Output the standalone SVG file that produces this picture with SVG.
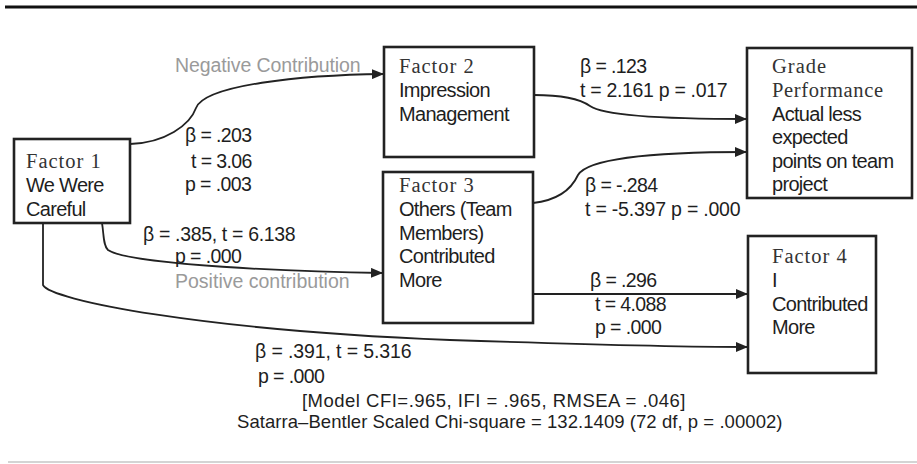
<svg xmlns="http://www.w3.org/2000/svg" width="917" height="464" viewBox="0 0 917 464">
  <style>
    .box { fill: #ffffff; stroke: #222222; stroke-width: 2.6; }
    .edge { fill: none; stroke: #222222; stroke-width: 1.8; marker-end: url(#arrow); }
    .ser { font-family: "Liberation Serif", "Times New Roman", serif; font-size: 20.5px; letter-spacing: 1px; fill: #333333; }
    .san { font-family: "Liberation Sans", Arial, sans-serif; font-size: 20px; letter-spacing: -0.7px; fill: #1e1e1e; }
    .lbl { font-family: "Liberation Sans", Arial, sans-serif; font-size: 19.5px; letter-spacing: -0.6px; fill: #1e1e1e; }
    .gray { fill: #9a9a9a; }
    .foot { font-family: "Liberation Sans", Arial, sans-serif; font-size: 18.5px; letter-spacing: -0.5px; fill: #1e1e1e; }
  </style>
  <defs>
    <marker id="arrow" viewBox="0 0 12 10" refX="12" refY="5" markerWidth="12" markerHeight="10" markerUnits="userSpaceOnUse" orient="auto">
      <path d="M0,0 L12,5 L0,10 Z" fill="#222222"/>
    </marker>
  </defs>

  <!-- rules -->
  <line x1="5" y1="7" x2="917" y2="7" stroke="#111111" stroke-width="3"/>
  <line x1="8" y1="462" x2="917" y2="462" stroke="#aaaaaa" stroke-width="1.2"/>

  <!-- connectors -->
  <g id="connectors">
    <path class="edge" d="M130,144 C165,143 190,125 196,108 C205,85 300,75 384,74"/>
    <path class="edge" d="M534,95 C560,95 580,99 590,106 C605,117 680,119 747,119"/>
    <path class="edge" d="M533,203 C560,200 572,188 578,175 C590,155 680,152 747,152"/>
    <path class="edge" d="M102,223 C104,235 103,245 108,250 C130,265 300,272 383,273"/>
    <path class="edge" d="M43,223 L43,285 C50,300 200,330 450,340 C600,345 700,347 748,347"/>
    <path class="edge" d="M533,294 L748,294"/>
  </g>

  <!-- connector labels -->
  <g id="labels">
    <text class="lbl gray" x="175" y="72" textLength="185">Negative Contribution</text>
    <text class="lbl" x="185" y="142">β = .203</text>
    <text class="lbl" x="191" y="168">t = 3.06</text>
    <text class="lbl" x="185" y="191">p = .003</text>
    <text class="lbl" x="580" y="73">β = .123</text>
    <text class="lbl" x="580" y="97" textLength="147">t = 2.161 p = .017</text>
    <text class="lbl" x="585" y="192">β = -.284</text>
    <text class="lbl" x="585" y="216" textLength="155">t = -5.397 p = .000</text>
    <text class="lbl" x="143" y="241" textLength="152">β = .385, t = 6.138</text>
    <text class="lbl" x="175" y="263">p = .000</text>
    <text class="lbl gray" x="175" y="288" textLength="174">Positive contribution</text>
    <text class="lbl" x="590" y="287">β = .296</text>
    <text class="lbl" x="595" y="311">t = 4.088</text>
    <text class="lbl" x="595" y="334">p = .000</text>
    <text class="lbl" x="255" y="358" textLength="156">β = .391,  t = 5.316</text>
    <text class="lbl" x="258" y="383">p = .000</text>
    <text class="foot" x="302" y="407" textLength="383">[Model CFI=.965, IFI = .965, RMSEA = .046]</text>
    <text class="foot" x="237" y="428" textLength="545">Satarra–Bentler Scaled Chi-square = 132.1409 (72 df, p = .00002)</text>
  </g>

  <!-- nodes -->
  <g id="factor1">
    <rect class="box" x="14" y="139" width="116" height="84"/>
    <text class="ser" x="26" y="168">Factor 1</text>
    <text class="san" x="26" y="192">We Were</text>
    <text class="san" x="26" y="216">Careful</text>
  </g>
  <g id="factor2">
    <rect class="box" x="384" y="47" width="150" height="110"/>
    <text class="ser" x="399" y="73">Factor 2</text>
    <text class="san" x="399" y="97">Impression</text>
    <text class="san" x="399" y="121">Management</text>
  </g>
  <g id="factor3">
    <rect class="box" x="383" y="172" width="150" height="151"/>
    <text class="ser" x="399" y="192">Factor 3</text>
    <text class="san" x="399" y="216">Others (Team</text>
    <text class="san" x="399" y="240">Members)</text>
    <text class="san" x="399" y="263">Contributed</text>
    <text class="san" x="399" y="287">More</text>
  </g>
  <g id="grade">
    <rect class="box" x="747" y="48" width="165" height="150"/>
    <text class="ser" x="772" y="73">Grade</text>
    <text class="ser" x="772" y="97" textLength="112">Performance</text>
    <text class="san" x="772" y="121">Actual less</text>
    <text class="san" x="772" y="144">expected</text>
    <text class="san" x="772" y="168">points on team</text>
    <text class="san" x="772" y="191">project</text>
  </g>
  <g id="factor4">
    <rect class="box" x="748" y="236" width="128" height="137"/>
    <text class="ser" x="772" y="263">Factor 4</text>
    <text class="san" x="772" y="287">I</text>
    <text class="san" x="772" y="311">Contributed</text>
    <text class="san" x="772" y="334">More</text>
  </g>
</svg>
